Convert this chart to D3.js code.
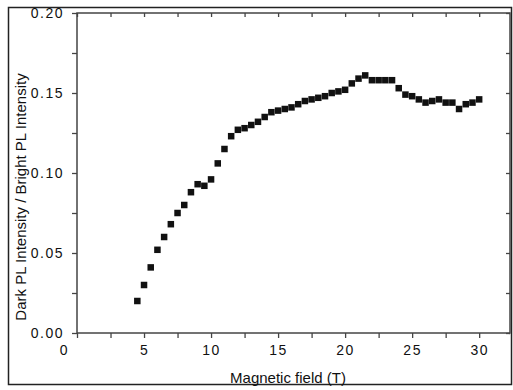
<!DOCTYPE html>
<html>
<head>
<meta charset="utf-8">
<script src="https://cdn.jsdelivr.net/npm/d3@7"></script>
<style>
  body { margin: 0; background: #fff; }
  svg { display: block; font-family: "Liberation Sans", Arial, sans-serif; }
  .tick text { font-size: 14px; letter-spacing: 1.5px; fill: #111; }
  .tick line { stroke: #444; stroke-width: 1.3; }
  .axis-title { font-size: 15px; fill: #111; }
</style>
</head>
<body>
<div id="chart"></div>
<script>
// magnetic field (T)
const field = [4.5, 5, 5.5, 6, 6.5, 7, 7.5, 8, 8.5, 9, 9.5, 10, 10.5, 11, 11.5, 12, 12.5, 13,
  13.5, 14, 14.5, 15, 15.5, 16, 16.5, 17, 17.5, 18, 18.5, 19, 19.5, 20, 20.5, 21, 21.5, 22,
  22.5, 23, 23.5, 24, 24.5, 25, 25.5, 26, 26.5, 27, 27.5, 28, 28.5, 29, 29.5, 30];
// dark PL / bright PL ratio
const ratio = [0.020, 0.030, 0.041, 0.052, 0.060, 0.068, 0.075, 0.080, 0.088, 0.093, 0.092, 0.096,
  0.106, 0.115, 0.123, 0.127, 0.128, 0.130, 0.132, 0.135, 0.138, 0.139, 0.140, 0.141, 0.143,
  0.145, 0.146, 0.147, 0.148, 0.150, 0.151, 0.152, 0.156, 0.159, 0.161, 0.158, 0.158, 0.158,
  0.158, 0.153, 0.149, 0.148, 0.146, 0.144, 0.145, 0.146, 0.144, 0.144, 0.140, 0.143, 0.144, 0.146];
const xTicks = [0, 2.5, 5, 7.5, 10, 12.5, 15, 17.5, 20, 22.5, 25, 27.5, 30];
const yTicks = [0, 0.025, 0.05, 0.075, 0.1, 0.125, 0.15, 0.175, 0.2];

const W = 513, H = 390;
const plot = { left: 77, right: 510, top: 13, bottom: 333 };

const svg = d3.select('#chart').append('svg')
  .attr('width', W).attr('height', H);

svg.append('rect').attr('width', W).attr('height', H).attr('fill', '#fff');

const x = d3.scaleLinear().domain([0, 32.3]).range([plot.left, plot.right]);
const y = d3.scaleLinear().domain([0, 0.2]).range([plot.bottom, plot.top]);

const data = field.map((f, i) => ({ f, r: ratio[i] }));

// outer frame
svg.append('rect')
  .attr('x', 8.5).attr('y', 7.5)
  .attr('width', 503).attr('height', 377)
  .attr('fill', 'none').attr('stroke', '#222').attr('stroke-width', 1.5);

// axes
const xAxis = d3.axisBottom(x).tickValues(xTicks).tickSize(5).tickPadding(7)
  .tickFormat(d => d % 5 === 0 ? d : '');
const gx = svg.append('g').attr('transform', `translate(0,${plot.bottom})`).call(xAxis);
gx.select('.domain').remove();
gx.selectAll('.tick text').filter(d => d === 0).attr('dx', -13);

const yAxis = d3.axisLeft(y).tickValues(yTicks).tickSize(5).tickPadding(8)
  .tickFormat(d => Math.round(d * 1000) % 50 === 0 ? d3.format('.2f')(d) : '');
const gy = svg.append('g').attr('transform', `translate(${plot.left},0)`).call(yAxis);
gy.select('.domain').remove();

const gt = svg.append('g').attr('transform', `translate(0,${plot.top})`)
  .call(d3.axisTop(x).tickValues(xTicks).tickSize(-4).tickFormat(''));
gt.select('.domain').remove();

const gr = svg.append('g').attr('transform', `translate(${plot.right},0)`)
  .call(d3.axisRight(y).tickValues(yTicks).tickSize(-4).tickFormat(''));
gr.select('.domain').remove();

// plot box
svg.append('rect')
  .attr('x', plot.left).attr('y', plot.top)
  .attr('width', plot.right - plot.left).attr('height', plot.bottom - plot.top)
  .attr('fill', 'none').attr('stroke', '#444').attr('stroke-width', 1.5);

// markers
const s = 6.5;
svg.append('g').selectAll('rect')
  .data(data)
  .join('rect')
  .attr('x', d => x(d.f) - s / 2)
  .attr('y', d => y(d.r) - s / 2)
  .attr('width', s).attr('height', s)
  .attr('fill', '#111');

// titles
svg.append('text')
  .attr('class', 'axis-title')
  .attr('x', 288).attr('y', 383)
  .attr('text-anchor', 'middle')
  .text('Magnetic field (T)');

svg.append('text')
  .attr('class', 'axis-title')
  .attr('transform', 'translate(26,197) rotate(-90)')
  .attr('text-anchor', 'middle')
  .text('Dark PL Intensity / Bright PL Intensity');
</script>
</body>
</html>
